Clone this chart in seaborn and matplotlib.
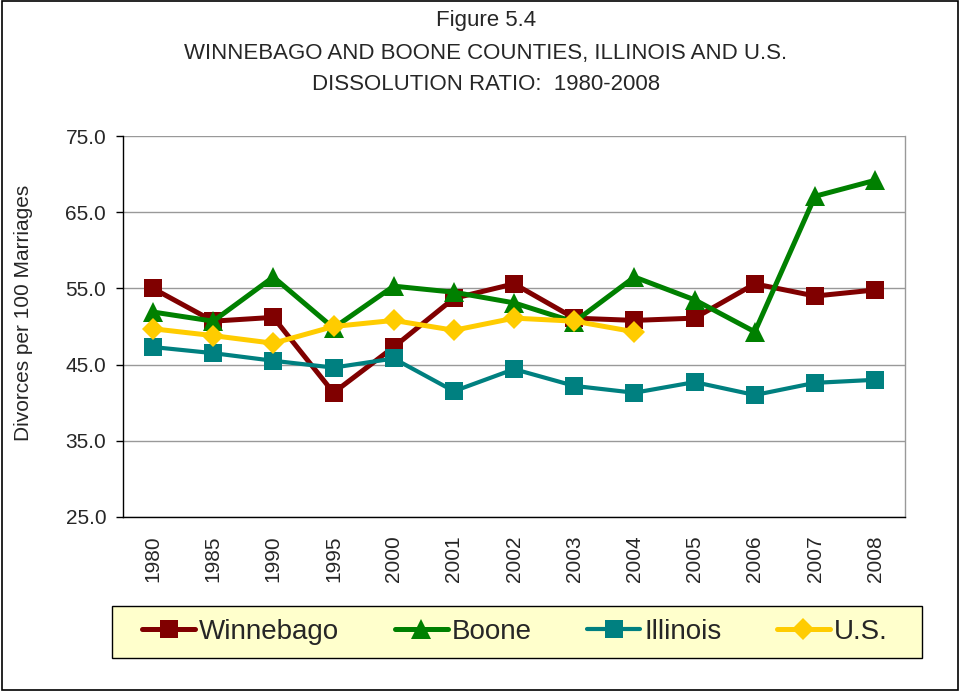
import numpy as np
import pandas as pd
import matplotlib
matplotlib.use("Agg")
import matplotlib.pyplot as plt
import seaborn as sns
from matplotlib.patches import Rectangle

years = ["1980", "1985", "1990", "1995", "2000", "2001", "2002",
         "2003", "2004", "2005", "2006", "2007", "2008"]
winnebago = [55.0, 50.7, 51.2, 41.3, 47.3, 53.7, 55.6, 51.1, 50.8, 51.1, 55.6, 54.0, 54.8]
boone = [51.9, 50.7, 56.5, 49.8, 55.3, 54.5, 53.1, 50.6, 56.5, 53.5, 49.3, 67.1, 69.2]
illinois = [47.3, 46.5, 45.5, 44.6, 45.8, 41.5, 44.4, 42.2, 41.3, 42.7, 41.0, 42.6, 43.0]
us = [49.7, 48.8, 47.8, 50.0, 50.8, 49.5, 51.1, 50.7, 49.3, np.nan, np.nan, np.nan, np.nan]

# name, values, colour, marker, marker size, line width
series = [
    ("Winnebago", winnebago, "#800000", "s", 13, 3.6),
    ("Boone", boone, "#008000", "^", 14, 3.6),
    ("Illinois", illinois, "#008080", "s", 13, 3.0),
    ("U.S.", us, "#FFCC00", "D", 11, 3.6),
]

sns.set_style("white")
plt.rcParams["font.family"] = ["Liberation Sans", "DejaVu Sans"]

fig = plt.figure(figsize=(9.6, 6.91), dpi=100)
ax = fig.add_axes([0.128, 0.252, 0.815, 0.551])

x = np.arange(len(years))
for name, vals, color, marker, ms, lw in series:
    df = pd.DataFrame({"x": x, "y": vals}).dropna()
    sns.lineplot(data=df, x="x", y="y", ax=ax, color=color, marker=marker,
                 markersize=ms, markeredgewidth=0, linewidth=lw,
                 label=name, legend=False)

ax.set_xlim(-0.5, len(years) - 0.5)
ax.set_ylim(25, 75)
yt = np.arange(25, 76, 10)
ax.set_yticks(yt)
ax.set_yticklabels([f"{v:.1f}" for v in yt], fontsize=15)
ax.set_xticks(x)
ax.set_xticklabels(years, rotation=90, fontsize=15)
ax.set_xticks(np.arange(-0.5, len(years), 1), minor=True)
ax.tick_params(axis="x", which="major", length=0, pad=13.5)
ax.tick_params(axis="x", which="minor", length=4, direction="out", color="black")
ax.tick_params(axis="y", length=5, width=1, direction="out", color="black",
               left=True, pad=7)
ax.yaxis.grid(True, color="#999999", linewidth=1)
ax.set_axisbelow(True)
ax.set_xlabel("")
ax.set_ylabel("Divorces per 100 Marriages", fontsize=15)
ax.yaxis.set_label_coords(-0.127, 0.535)
ax.yaxis.label.set_va("center")

ax.spines["left"].set_color("black")
ax.spines["bottom"].set_color("black")
ax.spines["right"].set_color("#999999")
ax.spines["top"].set_visible(False)
for s in ax.spines.values():
    s.set_linewidth(1)

fig.text(0.506, 0.970, "Figure 5.4", ha="center", va="center", fontsize=16)
fig.text(0.506, 0.923, "WINNEBAGO AND BOONE COUNTIES, ILLINOIS AND U.S.",
         ha="center", va="center", fontsize=16)
fig.text(0.506, 0.877, "DISSOLUTION RATIO:  1980-2008", ha="center", va="center",
         fontsize=16)

# legend box drawn separately so the padding matches the original
fig.patches.append(Rectangle((112 / 960, (691 - 658) / 691), 810 / 960, 52 / 691,
                             transform=fig.transFigure, facecolor="#FFFFCC",
                             edgecolor="black", linewidth=1))
handles, labels = ax.get_legend_handles_labels()
fig.legend(handles, labels, ncol=4, loc="center",
           bbox_to_anchor=(515 / 960, (691 - 632) / 691),
           fontsize=20, frameon=False, handlelength=1.9, handletextpad=0.15,
           columnspacing=2.0, borderaxespad=0, borderpad=0)

fig.patches.append(Rectangle((0.002, 0.001), 0.996, 0.998, transform=fig.transFigure,
                             fill=False, edgecolor="black", linewidth=1.2))

fig.savefig("out.png", dpi=100)
